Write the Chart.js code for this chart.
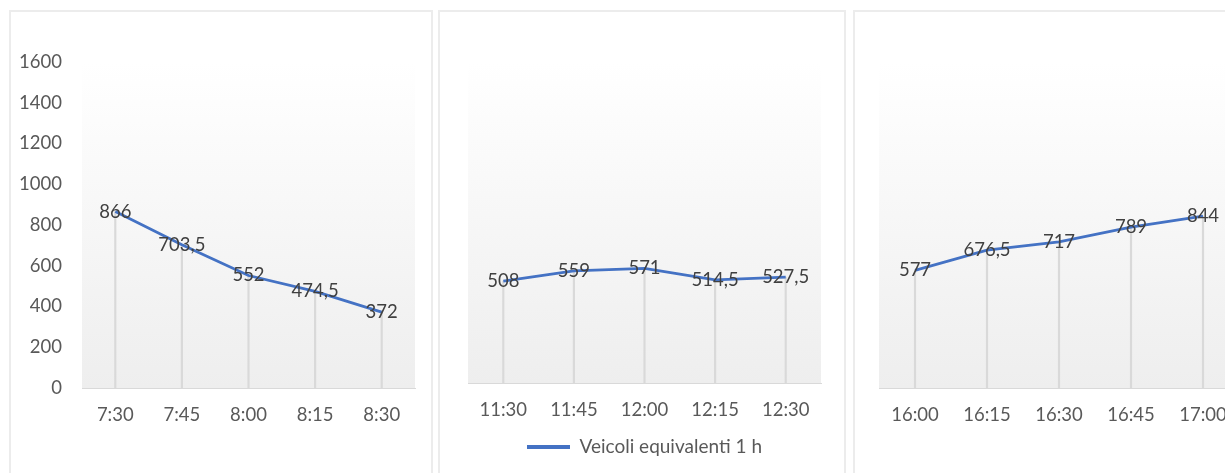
<!DOCTYPE html>
<html>
<head>
<meta charset="utf-8">
<script src="https://cdn.jsdelivr.net/npm/chart.js@4/dist/chart.umd.min.js"></script>
<style>
  html, body { margin: 0; padding: 0; background: #ffffff; width: 1225px; height: 473px; overflow: hidden; }
  .panel { position: absolute; top: 10px; height: 480px; box-sizing: border-box; border: 2px solid #ececec; background: #ffffff; }
  canvas { position: absolute; }
</style>
</head>
<body>
<div class="panel" style="left:9px;width:424px;"></div>
<div class="panel" style="left:438px;width:408px;"></div>
<div class="panel" style="left:853px;width:430px;"></div>
<canvas id="c1" width="418" height="461" style="left:12px;top:12px;"></canvas>
<canvas id="c2" width="402" height="461" style="left:441px;top:12px;"></canvas>
<canvas id="c3" width="420" height="461" style="left:856px;top:12px;"></canvas>
<script>
// ---- data ----
const seriesName = "Veicoli equivalenti 1 h";
const morningLabels = ["7:30", "7:45", "8:00", "8:15", "8:30"];
const morningValues = [866, 703.5, 552, 474.5, 372];
const noonLabels = ["11:30", "11:45", "12:00", "12:15", "12:30"];
const noonValues = [508, 559, 571, 514.5, 527.5];
const eveningLabels = ["16:00", "16:15", "16:30", "16:45", "17:00"];
const eveningValues = [577, 676.5, 717, 789, 844];
const yTicks = [0, 200, 400, 600, 800, 1000, 1200, 1400, 1600];

const FONT = "Lato, 'Open Sans', sans-serif";
const FS = 18.5;
const LINE_COLOR = "#4472C4";

const bgPlugin = {
  id: "plotBg",
  beforeDraw(chart) {
    const a = chart.chartArea, ctx = chart.ctx;
    const g = ctx.createLinearGradient(0, a.top, 0, a.bottom);
    g.addColorStop(0, "#ffffff");
    g.addColorStop(0.12, "#fdfdfd");
    g.addColorStop(1, "#eeeeee");
    ctx.save();
    ctx.fillStyle = g;
    ctx.fillRect(a.left, a.top, a.right - a.left, a.bottom - a.top);
    ctx.restore();
  }
};

const labelPlugin = {
  id: "valueLabels",
  afterDatasetsDraw(chart) {
    const ctx = chart.ctx;
    const meta = chart.getDatasetMeta(0);
    const data = chart.data.datasets[0].data;
    ctx.save();
    ctx.font = FS + "px " + FONT;
    ctx.fillStyle = "#404040";
    ctx.textAlign = "center";
    ctx.textBaseline = "middle";
    meta.data.forEach((pt, i) => {
      ctx.fillText(String(data[i]).replace(".", ","), pt.x, pt.y);
    });
    ctx.restore();
  }
};

function makeChart(id, labels, values, opt) {
  return new Chart(document.getElementById(id), {
    type: "line",
    data: {
      labels: labels,
      datasets: [
        {
          type: "line",
          label: seriesName,
          data: values,
          borderColor: LINE_COLOR,
          backgroundColor: LINE_COLOR,
          borderWidth: 2.8,
          pointRadius: 0,
          tension: 0,
          order: 0
        },
        {
          type: "bar",
          label: "drop",
          data: values,
          backgroundColor: "#d9d9d9",
          borderWidth: 0,
          barThickness: 1.5,
          order: 1
        }
      ]
    },
    options: {
      responsive: false,
      animation: false,
      events: [],
      layout: { padding: opt.padding },
      scales: {
        x: {
          type: "category",
          offset: true,
          grid: { display: false, drawTicks: false },
          border: { display: true, color: "#d9d9d9", width: 1 },
          ticks: { color: "#595959", font: { size: FS, family: FONT }, padding: 16, maxRotation: 0, autoSkip: false },
          afterFit(s) { s.height = opt.xHeight; }
        },
        y: {
          min: 0, max: 1600,
          afterBuildTicks(s) { s.ticks = yTicks.map(v => ({ value: v })); },
          grid: { display: false, drawTicks: false },
          border: { display: false },
          ticks: { display: opt.showY, color: "#595959", font: { size: FS, family: FONT }, padding: 20,
                   callback: (v) => String(v) },
          afterFit(s) { s.width = opt.yWidth; }
        }
      },
      plugins: {
        tooltip: { enabled: false },
        legend: {
          display: opt.legend,
          position: "bottom",
          labels: {
            color: "#595959",
            font: { size: 19, family: FONT },
            boxWidth: 43,
            boxHeight: 4,
            padding: 10,
            filter: (item) => item.datasetIndex === 0,
            generateLabels(chart) {
              return Chart.defaults.plugins.legend.labels.generateLabels(chart).map(it => {
                it.lineWidth = 0;
                it.fillStyle = LINE_COLOR;
                it.strokeStyle = LINE_COLOR;
                return it;
              });
            }
          }
        }
      }
    },
    plugins: [bgPlugin, labelPlugin]
  });
}

makeChart("c1", morningLabels, morningValues, {
  padding: { left: 0, top: 50, right: 15, bottom: 0 },
  xHeight: 85, yWidth: 70, showY: true, legend: false
});
makeChart("c2", noonLabels, noonValues, {
  padding: { left: 27, top: 50, right: 22, bottom: 6.5 },
  xHeight: 44.5, yWidth: 0, showY: false, legend: true
});
makeChart("c3", eveningLabels, eveningValues, {
  padding: { left: 23, top: 50, right: 37, bottom: 0 },
  xHeight: 85, yWidth: 0, showY: false, legend: false
});
</script>
</body>
</html>
